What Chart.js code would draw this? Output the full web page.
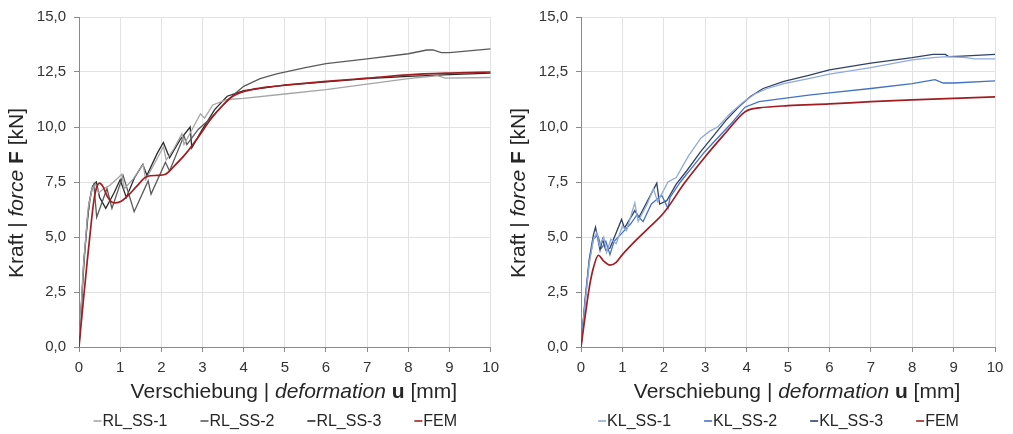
<!DOCTYPE html>
<html><head><meta charset="utf-8">
<script src="https://cdn.jsdelivr.net/npm/chart.js@4.4.1/dist/chart.umd.min.js"></script>
<style>
html,body{margin:0;padding:0;background:#fff;}
#wrap{position:relative;width:1013px;height:434px;overflow:hidden;}
canvas{position:absolute;top:0;}
</style></head><body>
<div id="wrap">
<canvas id="c1" width="506" height="434" style="left:0;width:506px;height:434px"></canvas>
<canvas id="c2" width="507" height="434" style="left:506px;width:507px;height:434px"></canvas>
</div>
<script>
// ---------- data (u in mm, F in kN) ----------
const xTicks = [0,1,2,3,4,5,6,7,8,9,10];
const yTicks = [0,2.5,5,7.5,10,12.5,15];

const rl1U = [0,0.1,0.22,0.32,0.4,0.48,0.6,0.75,0.9,1.04,1.1,1.3,1.45,1.56,1.62,1.85,2.05,2.12,2.3,2.5,2.55,2.75,2.95,3.05,3.25,3.6,4.0,5,6,7,8,8.7,8.9,10];
const rl1F = [0,3.5,6.3,7.2,7.4,7.0,7.2,7.35,7.6,7.85,7.2,7.6,8.0,8.3,7.6,8.4,9.1,8.5,9.0,9.7,9.2,9.9,10.6,10.4,11.0,11.25,11.3,11.5,11.7,11.95,12.2,12.33,12.22,12.25];
const rl2U = [0,0.1,0.2,0.3,0.36,0.43,0.68,0.8,1.07,1.34,1.68,1.75,2.1,2.2,2.55,2.62,2.9,3.2,3.5,3.75,4.0,4.4,4.8,5.5,6,7,8,8.45,8.6,8.8,9,10];
const rl2F = [0,3.2,5.8,7.1,7.4,5.9,7.2,6.3,7.8,6.15,7.55,6.95,8.4,8.0,9.6,9.2,9.9,10.4,11.0,11.45,11.85,12.2,12.42,12.7,12.88,13.1,13.33,13.5,13.5,13.38,13.38,13.55];
const rl3U = [0,0.12,0.25,0.33,0.42,0.5,0.65,0.85,1.0,1.15,1.35,1.55,1.65,1.9,2.05,2.2,2.45,2.7,2.74,3.0,3.3,3.6,4.0,5,6,7,8,9,10];
const rl3F = [0,4.0,6.6,7.3,7.5,6.8,6.3,7.0,7.6,6.8,7.7,8.3,7.8,8.8,9.3,8.6,9.4,10.0,9.05,9.9,10.8,11.4,11.65,11.9,12.05,12.2,12.3,12.38,12.45];
const femLU = [0,0.1,0.2,0.27,0.35,0.42,0.5,0.58,0.7,0.85,1.0,1.2,1.4,1.65,1.9,2.1,2.3,2.6,2.9,3.2,3.5,3.7,3.9,4.2,4.6,5,6,7,8,9,10];
const femLF = [0,2.0,3.9,5.15,6.5,7.2,7.45,7.3,6.8,6.55,6.6,6.9,7.3,7.75,7.8,7.85,8.2,8.8,9.55,10.35,11.0,11.35,11.55,11.7,11.82,11.9,12.07,12.22,12.37,12.45,12.5];

const kl1U = [0,0.1,0.2,0.3,0.38,0.45,0.55,0.62,0.72,0.85,1.0,1.1,1.3,1.38,1.6,1.75,1.85,2.1,2.3,2.6,2.9,3.1,3.3,3.6,3.9,4.2,4.5,4.9,5.5,6,7,8,8.5,8.85,9.3,9.5,10];
const kl1F = [0,2.0,3.8,4.9,5.2,4.6,5.0,4.3,4.9,4.7,5.5,5.3,6.55,5.7,6.5,7.2,6.6,7.5,7.7,8.7,9.5,9.8,10.0,10.6,11.1,11.5,11.75,11.97,12.2,12.4,12.7,13.05,13.15,13.2,13.15,13.1,13.1];
const kl2U = [0,0.1,0.2,0.3,0.4,0.5,0.6,0.7,0.8,1.0,1.2,1.35,1.5,1.7,1.95,2.1,2.15,2.4,2.7,3.0,3.3,3.6,3.96,4.3,4.9,5.5,6,7,8,8.55,8.75,9,10];
const kl2F = [0,2.1,3.9,4.9,5.1,4.5,4.8,4.2,4.8,5.2,5.6,6.0,5.7,6.5,6.9,6.3,6.8,7.5,8.2,8.9,9.5,10.1,10.9,11.15,11.3,11.45,11.55,11.75,11.97,12.15,12.0,12.0,12.1];
const kl3U = [0,0.1,0.2,0.3,0.35,0.46,0.52,0.6,0.7,0.98,1.05,1.3,1.4,1.83,1.9,2.07,2.3,2.55,2.9,3.2,3.5,3.8,4.1,4.4,4.9,5.5,6,7,8,8.5,8.8,8.88,9.2,10];
const kl3F = [0,2.2,4.0,5.1,5.45,4.4,4.9,4.4,4.5,5.8,5.4,6.2,5.9,7.45,6.5,6.65,7.4,8.0,8.9,9.6,10.3,10.9,11.4,11.75,12.07,12.35,12.6,12.9,13.15,13.3,13.3,13.2,13.22,13.3];
const femRU = [0,0.1,0.2,0.3,0.42,0.55,0.7,0.85,1.0,1.3,1.6,2.0,2.5,3.0,3.5,3.9,4.05,4.3,5,6,7,8,9,10];
const femRF = [0,1.4,2.7,3.6,4.17,3.9,3.72,3.85,4.2,4.8,5.35,6.1,7.45,8.65,9.75,10.6,10.78,10.87,10.97,11.05,11.15,11.23,11.3,11.37];

const leftLabels = ['RL_SS-1','RL_SS-2','RL_SS-3','FEM'];
const rightLabels = ['KL_SS-1','KL_SS-2','KL_SS-3','FEM'];

// ---------- helpers ----------
const FONT = '"Liberation Sans", Arial, sans-serif';
function pts(u, f) { const n = Math.min(u.length, f.length); const a = []; for (let i = 0; i < n; i++) a.push({x: u[i], y: f[i]}); return a; }
function ds(label, u, f, color, width, smooth, order) {
  return { label, data: pts(u, f), borderColor: color, backgroundColor: color, borderWidth: width,
    showLine: true, pointRadius: 0, pointHoverRadius: 0, tension: smooth ? 0.4 : 0,
    cubicInterpolationMode: smooth ? 'monotone' : 'default', order: order || 0, fill: false };
}
function drawRich(ctx, parts, cx, cy, size, rot) {
  ctx.save();
  ctx.translate(cx, cy);
  if (rot) ctx.rotate(-Math.PI / 2);
  ctx.textBaseline = 'middle'; ctx.textAlign = 'left'; ctx.fillStyle = '#262626';
  let total = 0;
  const ws = parts.map(p => { ctx.font = p[1] + ' ' + size + 'px ' + FONT; const w = ctx.measureText(p[0]).width; total += w; return w; });
  let x = -total / 2;
  parts.forEach((p, i) => { ctx.font = p[1] + ' ' + size + 'px ' + FONT; ctx.fillText(p[0], x, 0); x += ws[i]; });
  ctx.restore();
}
const decorPlugin = {
  id: 'decor',
  afterDraw(chart) {
    const ctx = chart.ctx, a = chart.chartArea;
    const cx = (a.left + a.right) / 2, cy = (a.top + a.bottom) / 2;
    drawRich(ctx, [['Verschiebung | ', 'normal'], ['deformation', 'italic'], [' ', 'normal'], ['u', 'bold'], [' [mm]', 'normal']], cx + 9, 392, 21, false);
    drawRich(ctx, [['Kraft | ', 'normal'], ['force', 'italic'], [' ', 'normal'], ['F', 'bold'], [' [kN]', 'normal']], a.left - 62, cy + 11, 21, true);
    // legend
    const items = chart.data.datasets;
    ctx.save();
    ctx.font = '16px ' + FONT; ctx.textBaseline = 'middle'; ctx.textAlign = 'left';
    const dash = 8, gapT = 1, gapI = 33;
    const widths = items.map(d => dash + gapT + ctx.measureText(d.label).width);
    const total = widths.reduce((s, w) => s + w, 0) + gapI * (items.length - 1);
    let x = cx - 9.5 - total / 2;
    const y = 422;
    items.forEach((d, i) => {
      ctx.strokeStyle = d.borderColor; ctx.lineWidth = 1.6;
      ctx.beginPath(); ctx.moveTo(x, y - 1); ctx.lineTo(x + dash, y - 1); ctx.stroke();
      ctx.fillStyle = '#262626';
      ctx.fillText(d.label, x + dash + gapT, y);
      x += widths[i] + gapI;
    });
    ctx.restore();
  }
};
function makeChart(id, datasets, yWidth, padRight) {
  return new Chart(document.getElementById(id), {
    type: 'scatter',
    data: { datasets },
    plugins: [decorPlugin],
    options: {
      responsive: false, animation: false, devicePixelRatio: 1,
      layout: { padding: { left: 0, right: padRight, top: 15, bottom: 0 } },
      plugins: { legend: { display: false }, tooltip: { enabled: false }, title: { display: false } },
      scales: {
        x: {
          type: 'linear', min: 0, max: 10,
          afterFit: s => { s.height = 87; },
          afterBuildTicks: s => { s.ticks = xTicks.map(v => ({ value: v })); },
          ticks: { font: { family: FONT, size: 15 }, color: '#333', padding: 7, maxRotation: 0, callback: v => String(v) },
          grid: { color: '#e2e2e2', lineWidth: 1, tickColor: '#8a8a8a', tickLength: 5 },
          border: { color: '#8a8a8a', width: 1 }
        },
        y: {
          type: 'linear', min: 0, max: 15,
          afterFit: s => { s.width = yWidth; },
          afterBuildTicks: s => { s.ticks = yTicks.map(v => ({ value: v })); },
          ticks: { font: { family: FONT, size: 15 }, color: '#333', padding: 8, callback: v => v.toFixed(1).replace('.', ',') },
          grid: { color: '#e2e2e2', lineWidth: 1, tickColor: '#8a8a8a', tickLength: 5 },
          border: { color: '#8a8a8a', width: 1 }
        }
      }
    }
  });
}
const FEMC = '#a11d21';
makeChart('c1', [
  ds(leftLabels[0], rl1U, rl1F, '#a5a5a5', 1.3),
  ds(leftLabels[1], rl2U, rl2F, '#5a5a5a', 1.3),
  ds(leftLabels[2], rl3U, rl3F, '#2b2b2b', 1.3),
  ds(leftLabels[3], femLU, femLF, FEMC, 1.7, true, -1)
], 79, 15);
makeChart('c2', [
  ds(rightLabels[0], kl1U, kl1F, '#8faadc', 1.3),
  ds(rightLabels[1], kl2U, kl2F, '#4472c4', 1.3),
  ds(rightLabels[2], kl3U, kl3F, '#2f4168', 1.3),
  ds(rightLabels[3], femRU, femRF, FEMC, 1.7, true, -1)
], 75, 18);
</script>
</body></html>
